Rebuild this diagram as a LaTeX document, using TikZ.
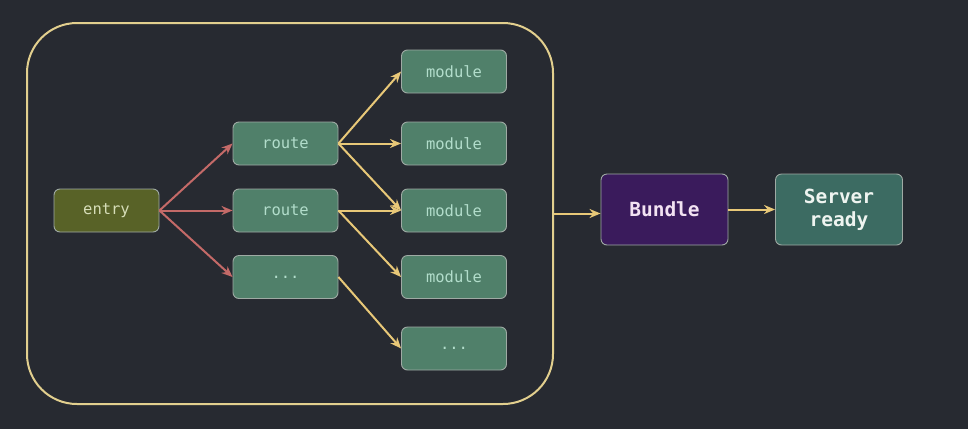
\documentclass[tikz,border=0pt]{standalone}
\usepackage{fontspec}
\setmonofont{DejaVu Sans Mono}
\usetikzlibrary{arrows.meta}
\definecolor{bg}{HTML}{272A31}
\definecolor{gfill}{HTML}{50806A}
\definecolor{gtext}{HTML}{B2DDCB}
\definecolor{efill}{HTML}{586227}
\definecolor{etext}{HTML}{D6DDB8}
\definecolor{bfill}{HTML}{3A1B5C}
\definecolor{btext}{HTML}{F2E2F2}
\definecolor{sfill}{HTML}{3C6B62}
\definecolor{stext}{HTML}{EEF4F0}
\definecolor{nborder}{HTML}{9FAAA4}
\definecolor{redarr}{HTML}{C46A68}
\definecolor{yelarr}{HTML}{E8C878}
\definecolor{cont}{HTML}{E2CF8E}
\begin{document}
\begin{tikzpicture}[x=1pt,y=-1pt,
  box/.style={draw=nborder, line width=0.9pt, rounded corners=6pt, minimum width=105pt, minimum height=43pt, inner sep=0pt, font=\ttfamily\fontsize{15.5}{18}\selectfont, text=gtext, fill=gfill},
  bigbox/.style={box, minimum width=127pt, minimum height=71pt, font=\ttfamily\bfseries\fontsize{19.5}{23}\selectfont, align=center},
  redline/.style={draw=redarr, line width=2pt, -{Stealth[length=11pt,width=9pt]}},
  yelline/.style={draw=yelarr, line width=2pt, -{Stealth[length=11pt,width=9pt]}}
]
\fill[bg] (0,0) rectangle (968,429);
\useasboundingbox (0,0) rectangle (968,429);
\node[draw=cont, line width=2pt, rounded corners=50pt, minimum width=526pt, minimum height=381pt, inner sep=0pt] (container) at (290,213.5) {};

\node[box, fill=efill, text=etext] (entry) at (106.5,210.5) {entry};
\node[box] (r1) at (285.5,143.5) {route};
\node[box] (r2) at (285.5,210.5) {route};
\node[box] (r3) at (285.5,277) {...};
\node[box] (m1) at (454,71.5) {module};
\node[box] (m2) at (454,143.5) {module};
\node[box] (m3) at (454,210.5) {module};
\node[box] (m4) at (454,277) {module};
\node[box] (m5) at (454,348.5) {...};
\node[bigbox, fill=bfill, text=btext] (bundle) at (664.5,209.5) {Bundle};
\node[bigbox, fill=sfill, text=stext] (server) at (839,209.5) {Server\\ready};

\draw[redline] (entry.east) -- (r1.west);
\draw[redline] (entry.east) -- (r2.west);
\draw[redline] (entry.east) -- (r3.west);
\draw[yelline] (r1.east) -- (m1.west);
\draw[yelline] (r1.east) -- (m2.west);
\draw[yelline] (r1.east) -- (m3.west);
\draw[yelline] (r2.east) -- (m3.west);
\draw[yelline] (r2.east) -- (m4.west);
\draw[yelline] (r3.east) -- (m5.west);
\draw[yelline] (container.east) -- (container.east -| bundle.west);
\draw[yelline] (bundle.east) -- (server.west);
\end{tikzpicture}
\end{document}
